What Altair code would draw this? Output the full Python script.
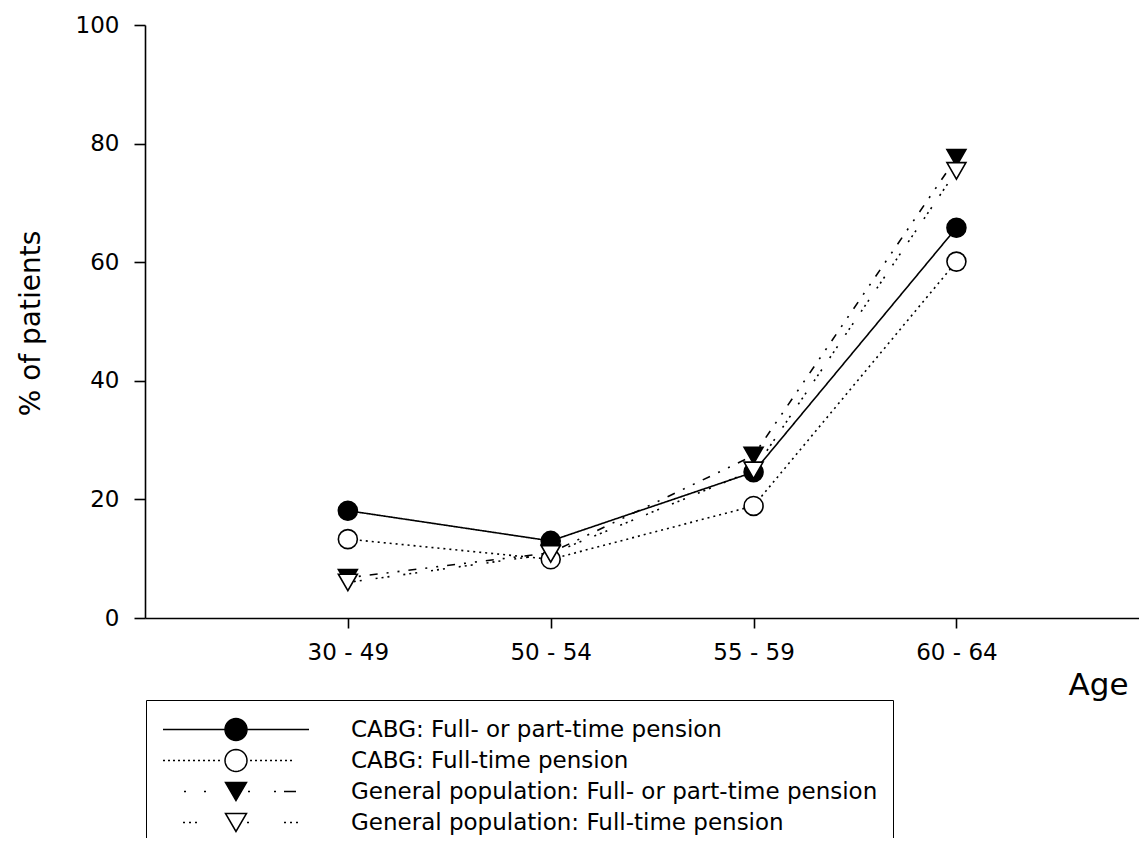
import json
import math
import altair as alt
import pandas as pd

# ---------------- data ----------------
ages = ["30 - 49", "50 - 54", "55 - 59", "60 - 64"]
series_names = [
    "CABG: Full- or part-time pension",
    "CABG: Full-time pension",
    "General population: Full- or part-time pension",
    "General population: Full-time pension",
]
cabg_any = [18.1, 13.0, 24.6, 65.8]
cabg_full = [13.3, 9.9, 18.9, 60.1]
gen_any = [6.8, 11.0, 27.4, 77.6]
gen_full = [6.0, 10.8, 24.9, 75.4]
y_ticks = [0, 20, 40, 60, 80, 100]

values = [cabg_any, cabg_full, gen_any, gen_full]
rows = []
for s, vals in zip(series_names, values):
    for i, (a, v) in enumerate(zip(ages, vals)):
        rows.append({"series": s, "age": a, "pos": i + 1, "pct": v})
df = pd.DataFrame(rows)

# ---------------- styles ----------------
FONT = "DejaVu Sans"
dash_range = [[1, 0], [2, 4], [2, 9, 2, 9, 8, 9], [2, 4, 2, 4, 2, 14]]
fill_range = ["black", "white", "black", "white"]
shape_range = ["circle", "circle", "triangle-down", "triangle-down"]
size_range = [360, 360, 420, 420]

# legend symbol paths (line sample + marker), unit box -1..1
U = 73.0


def P(v):
    return v / U


def dot(xc, half=1.0):
    return f"M{P(xc - half):.4f},0L{P(xc + half):.4f},0"


def seg(x0, x1):
    return f"M{P(x0):.4f},0L{P(x1):.4f},0"


def circle(r, n=32):
    pts = [(P(r * math.cos(2 * math.pi * k / n)), P(r * math.sin(2 * math.pi * k / n))) for k in range(n)]
    return "M" + "L".join(f"{x:.4f},{y:.4f}" for x, y in pts) + "Z"


def tri(w, h):
    return f"M0,{P(h / 2):.4f}L{P(-w / 2):.4f},{P(-h / 2):.4f}L{P(w / 2):.4f},{P(-h / 2):.4f}Z"


leg1 = seg(-73, 73) + circle(11)
leg2 = "".join(dot(x) for x in range(-72, -12, 5)) + "".join(dot(x) for x in range(15, 58, 5)) + circle(11)
leg3 = dot(-51) + dot(-31) + dot(13) + dot(39) + seg(48, 60) + tri(21, 18)
leg4 = dot(-52) + dot(-46) + dot(-40) + dot(12) + dot(49) + dot(55) + dot(61) + tri(21, 18)
legend_paths = [leg1, leg2, leg3, leg4]

label_expr = json.dumps(ages) + "[datum.value - 1]"

x_enc = alt.X(
    "pos:Q",
    scale=alt.Scale(domain=[0, 4.9], nice=False, zero=False),
    axis=alt.Axis(
        values=[1, 2, 3, 4],
        labelExpr=label_expr,
        title="Age",
        titleX=953,
        titleY=76,
        titleAlign="center",
        titleBaseline="alphabetic",
        titleFontSize=31,
        titleFontWeight="normal",
        tickSize=10,
        labelPadding=13,
        grid=False,
    ),
)
y_enc = alt.Y(
    "pct:Q",
    scale=alt.Scale(domain=[0, 100], nice=False),
    axis=alt.Axis(
        values=y_ticks,
        title="% of patients",
        titleX=-114,
        titleY=298,
        titleAngle=-90,
        titleAlign="center",
        titleBaseline="middle",
        titleFontSize=28,
        titleFontWeight="normal",
        tickSize=11,
        labelPadding=15,
        grid=False,
    ),
)

lines = alt.Chart(df).mark_line(color="black", strokeWidth=1.6).encode(
    x=x_enc,
    y=y_enc,
    strokeDash=alt.StrokeDash(
        "series:N",
        scale=alt.Scale(domain=series_names, range=dash_range),
        legend=None,
    ),
)

points = alt.Chart(df).mark_point(filled=True, stroke="black", strokeWidth=1.6, opacity=1).encode(
    x=x_enc,
    y=y_enc,
    shape=alt.Shape("series:N", scale=alt.Scale(domain=series_names, range=shape_range), legend=None),
    fill=alt.Fill("series:N", scale=alt.Scale(domain=series_names, range=fill_range), legend=None),
    size=alt.Size("series:N", scale=alt.Scale(domain=series_names, range=size_range), legend=None),
)

legend_spec = dict(
    title=None,
    orient="none",
    legendX=1,
    legendY=675,
    padding=15,
    strokeColor="black",
    fillColor="white",
    symbolSize=146 * 146,
    symbolStrokeWidth=1.5,
    symbolOpacity=1,
    symbolOffset=1,
    clipHeight=29,
    rowPadding=2,
    labelOffset=41,
    labelFont=FONT,
    labelFontSize=23,
    labelColor="black",
    labelLimit=800,
)

legend_layer = alt.Chart(df).mark_point(filled=True, stroke="black", strokeWidth=1.5, opacity=0).encode(
    x=x_enc,
    y=y_enc,
    shape=alt.Shape(
        "series:N",
        scale=alt.Scale(domain=series_names, range=legend_paths),
        legend=alt.Legend(**legend_spec),
        sort=series_names,
    ),
    fill=alt.Fill(
        "series:N",
        scale=alt.Scale(domain=series_names, range=fill_range),
        legend=alt.Legend(**legend_spec),
        sort=series_names,
    ),
)

chart = (
    alt.layer(lines, points, legend_layer)
    .resolve_scale(shape="independent", fill="independent", size="independent")
    .properties(
        width=994,
        height=593,
        autosize=alt.AutoSizeParams(type="none"),
        padding={"left": 137, "top": 17, "right": 0, "bottom": 220},
        background="white",
    )
    .configure_view(stroke=None)
    .configure_axis(
        labelFont=FONT,
        titleFont=FONT,
        labelFontSize=23,
        labelColor="black",
        titleColor="black",
        domainColor="black",
        domainWidth=1.6,
        tickColor="black",
        tickWidth=1.6,
    )
)

chart.save("out.html", embed_options={"renderer": "svg", "actions": False})
